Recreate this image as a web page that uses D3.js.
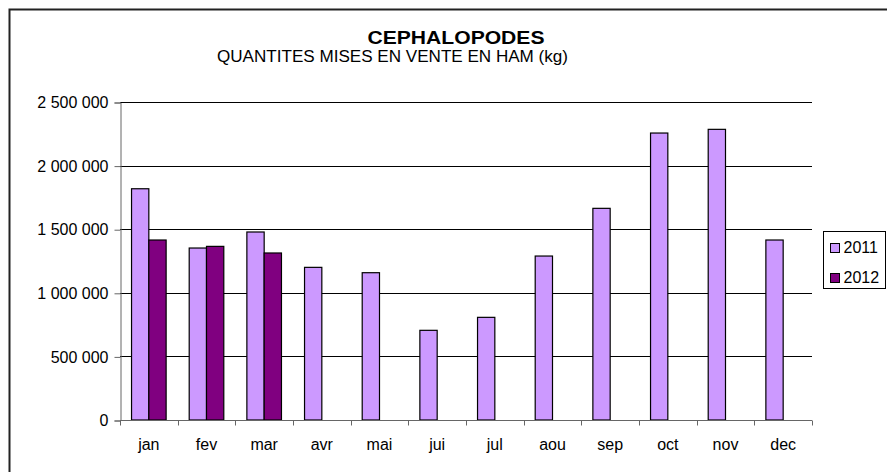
<!DOCTYPE html>
<html>
<head>
<meta charset="utf-8">
<script src="https://cdn.jsdelivr.net/npm/d3@7/dist/d3.min.js"></script>
<style>
  html, body { margin: 0; padding: 0; background: #fff; }
  svg { display: block; font-family: "Liberation Sans", Arial, sans-serif; }
</style>
</head>
<body>
<div id="chart"></div>
<script>
// data
const months = ['jan', 'fev', 'mar', 'avr', 'mai', 'jui', 'jul', 'aou', 'sep', 'oct', 'nov', 'dec'];
const seriesNames = ['2011', '2012'];
const values2011 = [1818000, 1352000, 1478000, 1200000, 1158000, 705000, 807000, 1289000, 1664000, 2256000, 2285000, 1415000];
const values2012 = [1415000, 1365000, 1313000, null, null, null, null, null, null, null, null, null];
const yTicks = [0, 500000, 1000000, 1500000, 2000000, 2500000];
const seriesColors = ['#cc99ff', '#800080'];

const W = 887, H = 472;
const plot = { left: 120, right: 812, top: 102, bottom: 420 };

const svg = d3.select('#chart').append('svg')
    .attr('width', W)
    .attr('height', H);

// outer frame (right/bottom edges run off the picture)
svg.append('rect')
    .attr('x', 9.5).attr('y', 9.5)
    .attr('width', 900).attr('height', 500)
    .attr('fill', 'none')
    .attr('stroke', '#222')
    .attr('stroke-width', 2);

const x = d3.scaleBand()
    .domain(months)
    .range([plot.left, plot.right]);

const xs = d3.scaleBand()
    .domain(seriesNames)
    .range([0, x.bandwidth()])
    .paddingOuter(0.667);

const y = d3.scaleLinear()
    .domain([0, 2500000])
    .range([plot.bottom, plot.top]);

const fmt = function (v) {
    return d3.format(',')(v).replace(/,/g, ' ');
};

// gridlines
svg.append('g')
    .selectAll('line')
    .data(yTicks.filter(function (t) { return t > 0; }))
    .join('line')
    .attr('x1', plot.left).attr('x2', plot.right)
    .attr('y1', function (d) { return Math.round(y(d)) + 0.5; })
    .attr('y2', function (d) { return Math.round(y(d)) + 0.5; })
    .attr('stroke', '#000');

// y axis
const yAxis = svg.append('g')
    .attr('transform', 'translate(' + (plot.left + 0.5) + ',0.5)')
    .call(d3.axisLeft(y).tickValues(yTicks).tickFormat(fmt).tickSize(6).tickPadding(6));
yAxis.select('.domain').attr('stroke', '#666');
yAxis.selectAll('.tick line').attr('stroke', '#666');
yAxis.selectAll('text')
    .attr('font-size', 16)
    .attr('font-family', '"Liberation Sans", Arial, sans-serif')
    .attr('fill', '#000');

// bars
const rows = months.map(function (m, i) {
    return { month: m, vals: [values2011[i], values2012[i]] };
});

const groups = svg.append('g')
    .selectAll('g')
    .data(rows)
    .join('g')
    .attr('transform', function (d) { return 'translate(' + x(d.month) + ',0)'; });

groups.selectAll('rect')
    .data(function (d) {
        return d.vals.map(function (v, k) { return { series: seriesNames[k], k: k, value: v }; })
            .filter(function (e) { return e.value != null; });
    })
    .join('rect')
    .attr('x', function (d) { return xs(d.series); })
    .attr('y', function (d) { return y(d.value); })
    .attr('width', xs.bandwidth())
    .attr('height', function (d) { return y(0) - y(d.value); })
    .attr('fill', function (d) { return seriesColors[d.k]; })
    .attr('stroke', '#000')
    .attr('stroke-width', 1.2);

// x axis (ticks between categories)
const xAxisG = svg.append('g')
    .attr('transform', 'translate(0,' + (plot.bottom + 0.5) + ')');
xAxisG.append('line')
    .attr('x1', plot.left).attr('x2', plot.right)
    .attr('stroke', '#666');
xAxisG.selectAll('line.tk')
    .data(months.concat(['end']))
    .join('line')
    .attr('class', 'tk')
    .attr('x1', function (d, i) { return Math.round(plot.left + i * x.step()) + 0.5; })
    .attr('x2', function (d, i) { return Math.round(plot.left + i * x.step()) + 0.5; })
    .attr('y1', 0).attr('y2', 5)
    .attr('stroke', '#666');
xAxisG.selectAll('text')
    .data(months)
    .join('text')
    .attr('x', function (d) { return x(d) + x.bandwidth() / 2; })
    .attr('y', 29)
    .attr('text-anchor', 'middle')
    .attr('font-size', 16)
    .text(function (d) { return d; });

// titles
svg.append('text')
    .attr('x', 456).attr('y', 44)
    .attr('text-anchor', 'middle')
    .attr('font-size', 18)
    .attr('font-weight', 'bold')
    .attr('textLength', 177)
    .attr('lengthAdjust', 'spacingAndGlyphs')
    .text('CEPHALOPODES');

svg.append('text')
    .attr('x', 217).attr('y', 62)
    .attr('font-size', 16)
    .attr('textLength', 351)
    .attr('lengthAdjust', 'spacingAndGlyphs')
    .text('QUANTITES MISES EN VENTE EN HAM (kg)');

// legend
const legend = svg.append('g').attr('transform', 'translate(823.5,231.5)');
legend.append('rect')
    .attr('width', 62).attr('height', 57)
    .attr('fill', '#fff')
    .attr('stroke', '#000');
const li = legend.selectAll('g')
    .data(seriesNames)
    .join('g')
    .attr('transform', function (d, i) { return 'translate(7,' + (12 + i * 30) + ')'; });
li.append('rect')
    .attr('width', 9).attr('height', 9)
    .attr('fill', function (d, i) { return seriesColors[i]; })
    .attr('stroke', '#000');
li.append('text')
    .attr('x', 13).attr('y', 9)
    .attr('font-size', 16)
    .text(function (d) { return d; });
</script>
</body>
</html>
